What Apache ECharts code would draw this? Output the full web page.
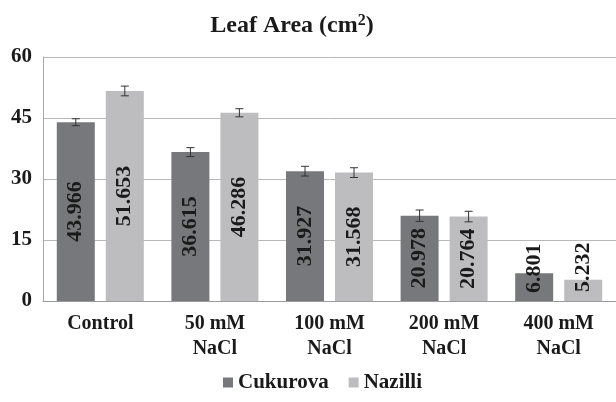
<!DOCTYPE html>
<html>
<head>
<meta charset="utf-8">
<script src="https://cdn.jsdelivr.net/npm/echarts@6/dist/echarts.min.js"></script>
<style>
  html, body { margin: 0; padding: 0; background: #fff; }
  #chart { width: 616px; height: 402px; }
</style>
</head>
<body>
<div id="chart"></div>
<script>
// data
const categories = ['Control', '50 mM\nNaCl', '100 mM\nNaCl', '200 mM\nNaCl', '400 mM\nNaCl']
const cukurova = [43.966, 36.615, 31.927, 20.978, 6.801]
const nazilli = [51.653, 46.286, 31.568, 20.764, 5.232]
const cukurovaErr = [0.85, 1.1, 1.2, 1.4, 0]
const nazilliErr = [1.2, 1.0, 1.2, 1.3, 0]
const yTicks = [0, 15, 30, 45, 60]

const serif = '"Liberation Serif", "DejaVu Serif", serif'
const darkGray = '#77787b'
const lightGray = '#bdbdc0'

const barW = 38

// labels that do not fit get pushed up a bit, like the original
// (offset is in the rotated frame, so x means "up" here)
const cukOffsets = [[0, 0], [0, 0], [0, 0], [0, 0], [19, 0]]
const nazOffsets = [[0, 0], [0, 0], [0, 0], [0, 0], [23, 0]]

const makeBarData = (vals, offs) => vals.map((v, i) => ({
  value: v,
  label: { offset: offs[i] }
}))

const errorSeries = (vals, errs, idx) => ({
  type: 'custom',
  z: 5,
  silent: true,
  renderItem: (params, api) => {
    const i = api.value(0)
    const v = api.value(1)
    const e = api.value(2)
    if (!e) return
    const base = api.coord([i, v])
    const top = api.coord([i, v + e])
    const bot = api.coord([i, v - e])
    // shift to the bar of this series within the group
    const shift = (idx === 0 ? -1 : 1) * (barW / 2 + 5.5)
    const x = base[0] + shift
    const cap = 4
    const st = { stroke: '#333', lineWidth: 1 }
    return {
      type: 'group',
      children: [
        { type: 'line', shape: { x1: x, y1: top[1], x2: x, y2: bot[1] }, style: st },
        { type: 'line', shape: { x1: x - cap, y1: top[1], x2: x + cap, y2: top[1] }, style: st },
        { type: 'line', shape: { x1: x - cap, y1: bot[1], x2: x + cap, y2: bot[1] }, style: st }
      ]
    }
  },
  data: vals.map((v, i) => [i, v, errs[i]])
})

const barLabel = {
  show: true,
  position: 'inside',
  rotate: 90,
  fontFamily: serif,
  fontWeight: 'bold',
  fontSize: 22,
  color: '#1a1a1a',
  formatter: p => p.value.toFixed(3)
}

const chart = echarts.init(document.getElementById('chart'))

chart.setOption({
  animation: false,
  title: {
    text: 'Leaf Area (cm{sup|2})',
    left: 287,
    textAlign: 'center',
    top: 8,
    textStyle: {
      fontFamily: serif,
      fontWeight: 'bold',
      fontSize: 24,
      color: '#1a1a1a',
      rich: {
        sup: { fontFamily: serif, fontWeight: 'bold', fontSize: 16, color: '#1a1a1a', verticalAlign: 'top', padding: [0, 0, 9, 0] }
      }
    }
  },
  legend: {
    top: 367,
    left: 218,
    itemWidth: 10,
    itemHeight: 10,
    itemGap: 20,
    icon: 'rect',
    textStyle: { fontFamily: serif, fontWeight: 'bold', fontSize: 21, color: '#1a1a1a' },
    data: ['Cukurova', 'Nazilli']
  },
  grid: {
    left: 43,
    right: -8,
    top: 57,
    bottom: 101
  },
  xAxis: {
    type: 'category',
    data: categories,
    axisLine: { lineStyle: { color: '#9a9a9a' } },
    axisTick: { show: false },
    axisLabel: {
      fontFamily: serif,
      fontWeight: 'bold',
      fontSize: 20,
      lineHeight: 25,
      color: '#1a1a1a',
      margin: 10,
      interval: 0
    }
  },
  yAxis: {
    type: 'value',
    min: yTicks[0],
    max: yTicks[yTicks.length - 1],
    interval: 15,
    axisLine: { show: true, lineStyle: { color: '#a8a8a8' } },
    axisTick: { show: false },
    splitLine: { lineStyle: { color: '#b8b8b8' } },
    axisLabel: {
      fontFamily: serif,
      fontWeight: 'bold',
      fontSize: 21,
      color: '#1a1a1a',
      margin: 11
    }
  },
  series: [
    {
      name: 'Cukurova',
      type: 'bar',
      barWidth: barW,
      barGap: '29%',
      itemStyle: { color: darkGray },
      label: barLabel,
      data: makeBarData(cukurova, cukOffsets)
    },
    {
      name: 'Nazilli',
      type: 'bar',
      barWidth: barW,
      barGap: '29%',
      itemStyle: { color: lightGray },
      label: barLabel,
      data: makeBarData(nazilli, nazOffsets)
    },
    errorSeries(cukurova, cukurovaErr, 0),
    errorSeries(nazilli, nazilliErr, 1)
  ]
})
</script>
</body>
</html>
